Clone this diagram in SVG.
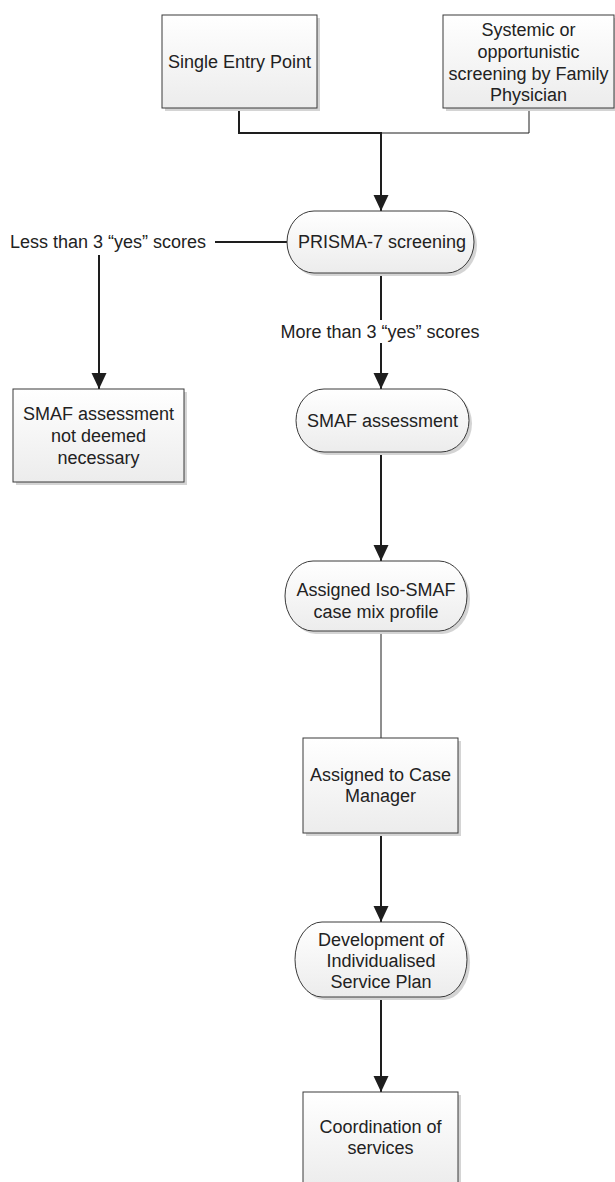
<svg xmlns="http://www.w3.org/2000/svg" width="615" height="1182" viewBox="0 0 615 1182">
<style>
  .node { fill: url(#fillGrad); stroke: #3a3a3a; stroke-width: 1; }
  .shadow { fill: #d4d4d4; }
  .lbl { font-family: "Liberation Sans", Arial, sans-serif; font-size: 18px; fill: #222; text-anchor: middle; }
  .thick { fill: none; stroke: #1e1e1e; stroke-width: 2; }
  .thin { fill: none; stroke: #1e1e1e; stroke-width: 1; }
</style>
<defs>
  <linearGradient id="fillGrad" x1="0" y1="0" x2="0" y2="1">
    <stop offset="0" stop-color="#ffffff"/>
    <stop offset="1" stop-color="#ececec"/>
  </linearGradient>
  <marker id="arrow" markerUnits="userSpaceOnUse" markerWidth="16" markerHeight="16" refX="16" refY="7.5" orient="auto">
    <path d="M0,0 L16,7.5 L0,15 z" fill="#1e1e1e"/>
  </marker>
</defs>
<rect width="615" height="1182" fill="#ffffff"/>

<g id="connectors">
  <path class="thick" d="M239,108 V133 H381 V211" marker-end="url(#arrow)"/>
  <path class="thin" d="M529,108 V133 H381"/>
  <path class="thick" d="M215,242 H287"/>
  <path class="thick" d="M99,255 V389" marker-end="url(#arrow)"/>
  <path class="thick" d="M381,273 V320"/>
  <path class="thick" d="M381,343 V389" marker-end="url(#arrow)"/>
  <path class="thick" d="M381,452 V561" marker-end="url(#arrow)"/>
  <path class="thin" d="M381,631 V738"/>
  <path class="thick" d="M381,833 V922" marker-end="url(#arrow)"/>
  <path class="thick" d="M381,997 V1092" marker-end="url(#arrow)"/>
</g>

<g id="label-less">
  <text class="lbl" x="10" y="248" style="text-anchor:start">Less than 3 “yes” scores</text>
</g>
<g id="label-more">
  <text class="lbl" x="380" y="338">More than 3 “yes” scores</text>
</g>

<g id="single-entry">
  <rect class="shadow" x="165" y="18" width="155" height="93"/>
  <rect class="node" x="162" y="15" width="155" height="93"/>
  <text class="lbl" x="239.5" y="68">Single Entry Point</text>
</g>

<g id="systemic">
  <rect class="shadow" x="446" y="18" width="171" height="93"/>
  <rect class="node" x="443" y="15" width="171" height="93"/>
  <text class="lbl" x="528.5" y="36">Systemic or</text>
  <text class="lbl" x="528.5" y="58">opportunistic</text>
  <text class="lbl" x="528.5" y="80">screening by Family</text>
  <text class="lbl" x="528.5" y="101">Physician</text>
</g>

<g id="prisma">
  <rect class="shadow" x="290" y="214" width="187" height="62" rx="27" ry="31"/>
  <rect class="node" x="287" y="211" width="187" height="62" rx="27" ry="31"/>
  <text class="lbl" x="382" y="248">PRISMA-7 screening</text>
</g>

<g id="not-deemed">
  <rect class="shadow" x="16" y="392" width="171" height="93"/>
  <rect class="node" x="13" y="389" width="171" height="93"/>
  <text class="lbl" x="98.5" y="420">SMAF assessment</text>
  <text class="lbl" x="98.5" y="442">not deemed</text>
  <text class="lbl" x="98.5" y="464">necessary</text>
</g>

<g id="smaf">
  <rect class="shadow" x="299" y="392" width="173" height="63" rx="28" ry="31.5"/>
  <rect class="node" x="296" y="389" width="173" height="63" rx="28" ry="31.5"/>
  <text class="lbl" x="382.5" y="427">SMAF assessment</text>
</g>

<g id="iso-smaf">
  <rect class="shadow" x="288" y="564" width="182" height="70" rx="28" ry="35"/>
  <rect class="node" x="285" y="561" width="182" height="70" rx="28" ry="35"/>
  <text class="lbl" x="376" y="596">Assigned Iso-SMAF</text>
  <text class="lbl" x="376" y="618">case mix profile</text>
</g>

<g id="case-manager">
  <rect class="shadow" x="306" y="741" width="155" height="95"/>
  <rect class="node" x="303" y="738" width="155" height="95"/>
  <text class="lbl" x="380.5" y="781">Assigned to Case</text>
  <text class="lbl" x="380.5" y="802">Manager</text>
</g>

<g id="development">
  <rect class="shadow" x="298" y="925" width="172" height="75" rx="27" ry="37.5"/>
  <rect class="node" x="295" y="922" width="172" height="75" rx="27" ry="37.5"/>
  <text class="lbl" x="381" y="946">Development of</text>
  <text class="lbl" x="381" y="967">Individualised</text>
  <text class="lbl" x="381" y="988">Service Plan</text>
</g>

<g id="coordination">
  <rect class="shadow" x="306" y="1095" width="155" height="95"/>
  <rect class="node" x="303" y="1092" width="155" height="95"/>
  <text class="lbl" x="380.5" y="1133">Coordination of</text>
  <text class="lbl" x="380.5" y="1154">services</text>
</g>
</svg>
